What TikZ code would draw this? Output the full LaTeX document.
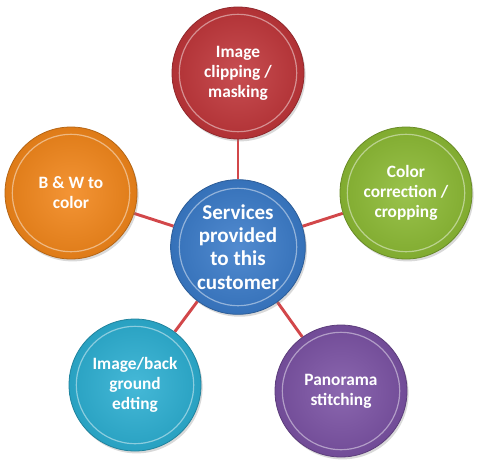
\documentclass[tikz,border=0pt]{standalone}
\usepackage{fontspec}
\setmainfont{Carlito}
\usetikzlibrary{shadows,backgrounds}

\definecolor{clipRed}{HTML}{C0363A}
\definecolor{bwOrange}{HTML}{F2861A}
\definecolor{fixGreen}{HTML}{8CBA34}
\definecolor{hubBlue}{HTML}{3A7BC9}
\definecolor{editTeal}{HTML}{2CAFD2}
\definecolor{panoPurple}{HTML}{7B52A4}
\definecolor{linkRed}{HTML}{D2474A}

\tikzset{
	bubble/.style={circle, minimum size=99pt, inner sep=0pt, align=center,
		text=white, font=\bfseries\fontsize{13}{15}\selectfont,
		draw=#1!75!black, line width=0.6pt,
		inner color=#1!88!white, outer color=#1!92!black,
		drop shadow={opacity=0.3, shadow xshift=1.2pt, shadow yshift=-1.8pt},
		path picture={\draw[white, opacity=0.45, line width=0.9pt] (path picture bounding box.center) circle[radius=44pt];}},
	hub/.style={bubble=#1, minimum size=101pt, font=\bfseries\fontsize{15.8}{17.5}\selectfont},
	spoke/.style={draw=linkRed, line width=2.2pt}
}
\tikzset{every picture/.style={line width=0.75pt}}

\begin{document}
\begin{tikzpicture}[x=0.75pt,y=0.75pt,yscale=-1,xscale=1]
	\useasboundingbox (0,0) rectangle (477,467);

	% centre
	\node[hub=hubBlue] (services) at (238,247) {Services\\provided\\to this\\customer};

	% outer circles
	\node[bubble=clipRed] (clipping) at (238,73) {Image\\clipping /\\masking};
	\node[bubble=fixGreen] (correction) at (406,193) {Color\\correction /\\cropping};
	\node[bubble=panoPurple] (panorama) at (341,391) {Panorama\\stitching};
	\node[bubble=editTeal] (background) at (135,385) {Image/back\\ground\\edting};
	\node[bubble=bwOrange] (bwcolor) at (71,193) {B \& W to\\color};

	% spokes
	\begin{scope}[on background layer]
		\foreach \outer in {clipping,correction,panorama,background,bwcolor}
			\draw[spoke] (services) -- (\outer);
	\end{scope}

\end{tikzpicture}
\end{document}
